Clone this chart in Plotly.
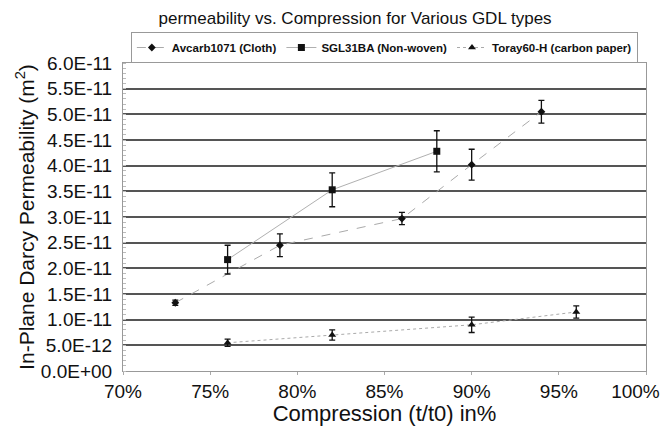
import plotly.graph_objects as go

# Data
avcarb_x = [0.73, 0.79, 0.86, 0.90, 0.94]
avcarb_y = [1.33e-11, 2.45e-11, 2.97e-11, 4.02e-11, 5.05e-11]
avcarb_err = [0.05e-11, 0.22e-11, 0.12e-11, 0.30e-11, 0.22e-11]

sgl_x = [0.76, 0.82, 0.88]
sgl_y = [2.17e-11, 3.53e-11, 4.28e-11]
sgl_err = [0.28e-11, 0.33e-11, 0.40e-11]

toray_x = [0.76, 0.82, 0.90, 0.96]
toray_y = [5.5e-12, 7.0e-12, 9.0e-12, 1.15e-11]
toray_err = [0.07e-11, 0.10e-11, 0.15e-11, 0.12e-11]

x_tickvals = [0.70, 0.75, 0.80, 0.85, 0.90, 0.95, 1.00]
x_ticktext = ["70%", "75%", "80%", "85%", "90%", "95%",
              "100%&nbsp;&nbsp;&nbsp;&nbsp;"]

y_tickvals = [0, 5e-12, 1e-11, 1.5e-11, 2e-11, 2.5e-11, 3e-11, 3.5e-11,
              4e-11, 4.5e-11, 5e-11, 5.5e-11, 6e-11]
y_ticktext = ["0.0E+00", "5.0E-12", "1.0E-11", "1.5E-11", "2.0E-11", "2.5E-11",
              "3.0E-11", "3.5E-11", "4.0E-11", "4.5E-11", "5.0E-11", "5.5E-11",
              "6.0E-11"]

fig = go.Figure()

def err(vals):
    return dict(type="data", array=vals, visible=True, color="#111111",
                thickness=1.3, width=3)

fig.add_trace(go.Scatter(
    x=avcarb_x, y=avcarb_y, name="Avcarb1071 (Cloth)", mode="lines+markers",
    line=dict(color="#aaaaaa", width=1, dash="dash"),
    marker=dict(symbol="diamond", size=6, color="#111111"),
    error_y=err(avcarb_err)))
fig.add_trace(go.Scatter(
    x=sgl_x, y=sgl_y, name="SGL31BA (Non-woven)", mode="lines+markers",
    line=dict(color="#b0b0b0", width=1),
    marker=dict(symbol="square", size=7, color="#111111"),
    error_y=err(sgl_err)))
fig.add_trace(go.Scatter(
    x=toray_x, y=toray_y, name="Toray60-H (carbon paper)", mode="lines+markers",
    line=dict(color="#aaaaaa", width=1, dash="dot"),
    marker=dict(symbol="triangle-up", size=7, color="#111111"),
    error_y=err(toray_err)))

fig.update_layout(
    width=660, height=426,
    margin=dict(l=123, r=14, t=63, b=55),
    paper_bgcolor="white", plot_bgcolor="white",
    font=dict(family="Liberation Sans, Arial, sans-serif", color="#111111"),
    title=dict(text="permeability vs. Compression for Various GDL types",
               x=0.538, xanchor="center", y=0.958, yanchor="middle",
               font=dict(size=17)),
    legend=dict(orientation="h", x=0.015, xanchor="left", y=1.0, yanchor="bottom",
                bgcolor="white", bordercolor="#999999", borderwidth=1,
                font=dict(size=11.5, weight="bold"), itemwidth=30,
                tracegroupgap=0),
    showlegend=True,
)

fig.update_xaxes(
    range=[0.70, 1.00], tickvals=x_tickvals, ticktext=x_ticktext,
    ticklabeloverflow="allow", automargin=False,
    showgrid=False, zeroline=False,
    showline=True, linecolor="#999999", linewidth=1, mirror=True,
    ticks="outside", ticklen=3, tickcolor="#aaaaaa",
    tickfont=dict(size=19),
    title=dict(text="Compression (t/t0) in%", font=dict(size=22), standoff=2),
)
fig.update_yaxes(
    range=[0, 6e-11], tickvals=y_tickvals, ticktext=y_ticktext,
    showgrid=True, gridcolor="#555555", gridwidth=2,
    zeroline=False,
    showline=True, linecolor="#999999", linewidth=1, mirror=True,
    ticks="", tickfont=dict(size=19), ticklabelstandoff=6,
    minor=dict(dtick=1e-12, ticks="inside", ticklen=3, tickcolor="#bbbbbb",
               showgrid=False),
    title=dict(text="In-Plane Darcy Permeability (m<sup>2</sup>)",
               font=dict(size=21), standoff=0),
)

fig.write_html("out.html")
